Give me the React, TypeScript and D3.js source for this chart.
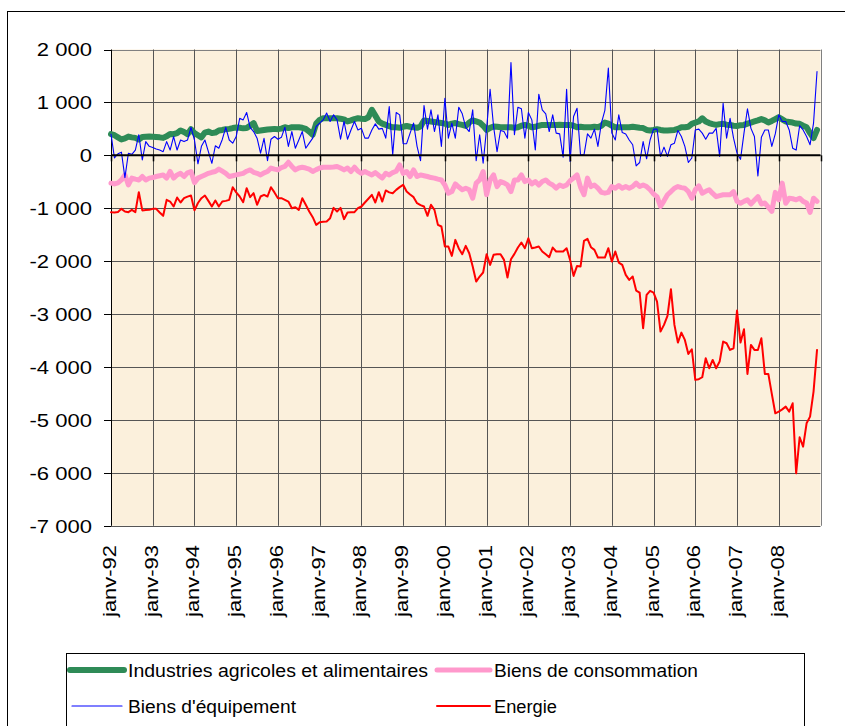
import React from "react";
import * as d3 from "d3";

const yTicks = [2000, 1000, 0, -1000, -2000, -3000, -4000, -5000, -6000, -7000];
const yTickLabels = ["2 000", "1 000", "0", "-1 000", "-2 000", "-3 000", "-4 000", "-5 000", "-6 000", "-7 000"];
const xTickLabels = ["janv-92", "janv-93", "janv-94", "janv-95", "janv-96", "janv-97", "janv-98", "janv-99", "janv-00", "janv-01", "janv-02", "janv-03", "janv-04", "janv-05", "janv-06", "janv-07", "janv-08"];

const seriesNames = ["Industries agricoles et alimentaires", "Biens de consommation", "Biens d'équipement", "Energie"];

const iaa = [
  400,380,340,300,320,355,340,330,300,345,350,355,
  350,345,340,330,360,405,400,420,470,440,400,495,
  420,380,340,430,450,420,430,470,480,495,500,515,
  525,520,510,515,560,610,460,470,480,490,495,500,
  495,505,530,515,
  530,530,530,520,500,450,390,600,670,700,700,700,
  700,700,690,680,640,660,685,700,690,685,720,860,
  750,640,600,575,550,530,530,520,540,555,540,530,
  520,545,660,650,640,630,620,610,600,575,600,610,
  590,575,555,
  620,660,640,620,560,480,520,545,540,530,530,530,
  530,520,530,560,575,560,530,540,560,575,575,575,
  575,575,580,575,575,575,560,530,540,530,530,530,
  540,530,560,620,600,560,530,530,530,530,530,540,
  530,520,515,
  480,470,480,495,480,470,470,475,480,500,530,530,
  540,595,620,640,700,640,610,590,575,590,595,580,
  575,560,555,570,575,600,620,640,660,685,660,620,
  650,685,720,680,640,630,620,600,595,560,530,420,
  325,480
];

const consommation = [
  -525,-540,-520,-465,-370,-560,-430,-450,-465,-400,-465,-430,
  -420,-400,-385,-370,-430,-305,-430,-370,-340,-400,-330,-305,
  -515,-430,-400,-370,-340,-320,-305,-260,-300,-340,-400,-385,
  -370,-355,-340,-300,-275,-320,-340,-370,-330,-305,-240,-260,
  -275,-230,-210,-130,
  -210,-275,-240,-225,-240,-260,-305,-270,-240,-225,-225,-225,
  -220,-210,-240,-275,-240,-305,-225,-300,-340,-305,-340,-370,
  -325,-380,-430,-340,-370,-325,-300,-180,-340,-305,-400,-275,
  -400,-370,-385,-400,-420,-430,-450,-465,-560,-715,-685,-540,
  -600,-650,-620,
  -650,-810,-525,-465,-305,-745,-465,-370,-590,-495,-520,-560,
  -685,-465,-465,-370,-495,-465,-540,-495,-560,-495,-465,-525,
  -560,-620,-560,-590,-560,-480,-430,-370,-600,-745,-430,-590,
  -560,-620,-700,-715,-700,-590,-620,-570,-620,-590,-620,-590,
  -525,-590,-560,
  -590,-650,-730,-780,-965,-860,-745,-685,-620,-590,-610,-620,
  -685,-810,-650,-575,-715,-680,-650,-720,-780,-760,-745,-745,
  -745,-685,-870,-905,-870,-840,-920,-850,-780,-920,-900,-980,
  -1060,-700,-840,-525,-905,-810,-820,-840,-810,-870,-900,-1080,
  -810,-870
];

const equipement = [
  400,-50,30,60,-420,40,20,100,390,-85,260,170,
  150,120,100,70,260,100,355,100,290,260,290,530,
  290,-160,170,290,70,-150,180,135,300,530,290,230,
  355,700,670,810,530,450,325,40,320,-100,305,355,
  305,340,530,170,
  450,135,290,450,135,230,325,545,610,670,800,640,
  765,670,305,640,305,480,640,480,510,325,325,480,
  595,495,510,325,920,10,810,765,220,220,420,610,
  170,-100,940,495,860,450,765,170,1080,325,610,325,
  910,785,530,
  450,860,-100,390,-150,510,1250,545,70,470,450,325,
  1755,390,910,880,325,810,670,100,1155,860,785,450,
  765,420,405,-35,1250,-115,735,890,10,10,405,325,
  495,170,610,850,1650,420,290,765,430,405,290,200,
  -200,-135,260,
  -65,290,495,495,-20,155,-20,200,230,470,355,170,
  -135,-50,480,495,420,305,420,420,510,-20,985,325,
  700,325,40,-75,420,880,510,355,-390,340,480,480,
  170,405,765,640,640,480,135,100,560,480,355,200,
  610,1585
];

const energie = [
  -1074,-1080,-1070,-1011,-1060,-1074,-1030,-1074,-696,-1040,-1035,-1030,
  -1011,-1011,-1080,-1143,-841,-873,-967,-797,-891,-810,-780,-759,
  -1040,-900,-810,-759,-860,-967,-853,-967,-873,-860,-841,-602,
  -700,-778,-885,-620,-790,-715,-935,-778,-746,-778,-602,-700,
  -810,-810,-840,-873,-999,-980,-1030,-810,-935,-1062,-1169,-1314,
  -1263,-1255,-1250,-1187,-993,-1062,-993,-1206,-1080,-1077,-1074,-999,
  -967,-891,-820,-746,-891,-696,-873,-664,-700,-715,-652,-600,
  -557,-683,-740,-790,-904,-940,-967,-1143,-935,-1030,-1314,-1345,
  -1723,-1723,-1900,-1597,
  -1760,-1868,-1710,-1849,-2100,-2385,-2290,-2214,-1868,-2070,-1880,-1868,
  -1868,-1975,-2309,-1963,-1862,-1742,-1647,-1755,-1566,-1755,-1740,-1723,
  -1817,-1870,-1924,-1742,-1817,-1817,-1817,-1755,-1975,-2278,-2089,-2102,
  -1616,-1578,-1736,-1786,-1931,-1931,-1931,-1755,-2007,-1817,-2026,-2070,
  -2259,-2353,-2290,-2555,-2593,-3267,
  -2637,-2561,-2593,-2763,-3330,-3204,-3033,-2530,-3204,-3538,-3349,-3488,
  -3752,-3664,-4243,-4230,-4193,-3834,-4023,-3866,-4023,-3897,-3519,-3551,
  -3677,-3645,-2933,-3538,-3286,-4130,-3582,-3677,-3677,-3456,-4130,-4130,
  -4508,-4874,-4843,-4800,-4748,-4843,-4685,-6008,-5327,-5504,-5063,-4937,
  -4464,-3677
];

const FONT = "'Liberation Sans', Arial, sans-serif";

export default function App() {
  const left = 111, right = 820.5, top = 49.5, bottom = 525.8;
  const x = d3.scaleLinear().domain([0, 204]).range([left, right]);
  const y = d3.scaleLinear().domain([-7000, 2000]).range([bottom, top]);
  const line = d3.line<number>().x((_, i) => x(i)).y((d) => y(d));
  const px = (v: number) => Math.round(v) + 0.5;
  const years = d3.range(0, 18);
  const y0 = y(0);

  const series = [
    { data: iaa, color: "#2e8b57", width: 6 },
    { data: consommation, color: "#ff99cc", width: 5 },
    { data: equipement, color: "#0000ff", width: 1.1 },
    { data: energie, color: "#ff0000", width: 2 },
  ];

  const legendItems = [
    { name: seriesNames[0], color: "#2e8b57", width: 6, lx: 70, lx2: 124, tx: 128, ty: 677, ly: 670, tl: 300 },
    { name: seriesNames[1], color: "#ff99cc", width: 5, lx: 437, lx2: 490, tx: 494, ty: 677, ly: 670, tl: 204 },
    { name: seriesNames[2], color: "#0000ff", width: 1.2, lx: 72, lx2: 122, tx: 128, ty: 713, ly: 706, tl: 168 },
    { name: seriesNames[3], color: "#ff0000", width: 2, lx: 437, lx2: 490, tx: 494, ty: 713, ly: 706, tl: 63 },
  ];

  return (
    <svg width={845} height={726} style={{ position: "absolute", left: 0, top: 0, background: "#fff" }} fontFamily={FONT}>
      <rect x={7.5} y={11.5} width={860} height={740} fill="#fff" stroke="#000" strokeWidth={1} />
      <rect x={left} y={top} width={right - left} height={bottom - top} fill="#fbf0dc" />
      {yTicks.map((v) => (
        <line key={"hg" + v} x1={left} x2={right} y1={px(y(v))} y2={px(y(v))} stroke={v === 2000 ? "#808080" : "#555"} strokeWidth={1} />
      ))}
      {years.slice(1).map((k) => (
        <line key={"vg" + k} x1={px(x(12 * k))} x2={px(x(12 * k))} y1={top} y2={bottom} stroke={k === 17 ? "#808080" : "#555"} strokeWidth={1} />
      ))}
      <line x1={px(left)} x2={px(left)} y1={top} y2={bottom} stroke="#000" strokeWidth={1} />
      {yTicks.map((v) => (
        <line key={"yt" + v} x1={104} x2={left} y1={px(y(v))} y2={px(y(v))} stroke="#000" strokeWidth={1} />
      ))}
      {series.map((s, i) => (
        <path key={"s" + i} d={line(s.data) || ""} fill="none" stroke={s.color} strokeWidth={s.width} strokeLinejoin="round" strokeLinecap="round" />
      ))}
      <line x1={left} x2={right} y1={y0} y2={y0} stroke="#000" strokeWidth={2} />
      {years.map((k) => (
        <line key={"xt" + k} x1={px(x(12 * k))} x2={px(x(12 * k))} y1={y0} y2={y0 + 6} stroke="#000" strokeWidth={1.5} />
      ))}
      {yTicks.map((v, i) => (
        <text key={"yl" + v} transform={`translate(92,${y(v) + 6.7}) scale(1.16,1)`} textAnchor="end" fontSize={19} fill="#000">
          {yTickLabels[i]}
        </text>
      ))}
      {xTickLabels.map((t, k) => (
        <text key={"xl" + k} transform={`translate(${x(12 * k) + 5},545) rotate(-90)`} textAnchor="end" fontSize={18} fill="#000" textLength={72} lengthAdjust="spacingAndGlyphs">
          {t}
        </text>
      ))}
      <rect x={66.5} y={653.5} width={738} height={100} fill="#fff" stroke="#000" strokeWidth={1} />
      {legendItems.map((l, i) => (
        <g key={"lg" + i}>
          <line x1={l.lx} x2={l.lx2} y1={l.ly} y2={l.ly} stroke={l.color} strokeWidth={l.width} strokeLinecap="round" />
          <text x={l.tx} y={l.ty} fontSize={17.5} fill="#000" textLength={l.tl} lengthAdjust="spacingAndGlyphs">{l.name}</text>
        </g>
      ))}
    </svg>
  );
}
